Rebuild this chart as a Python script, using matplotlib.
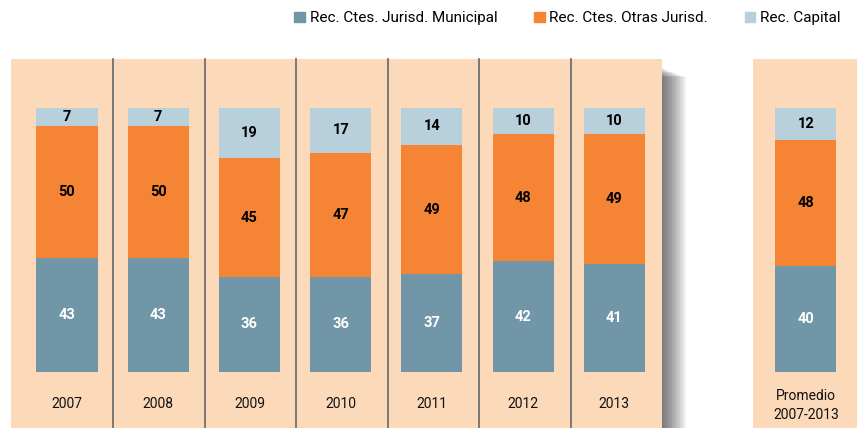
import matplotlib.pyplot as plt
from matplotlib.patches import Rectangle, Patch

# data
years = ['2007', '2008', '2009', '2010', '2011', '2012', '2013']
avg_label = 'Promedio\n2007-2013'
municipal = [43, 43, 36, 36, 37, 42, 41]
otras = [50, 50, 45, 47, 49, 48, 49]
capital = [7, 7, 19, 17, 14, 10, 10]
avg_values = [40, 48, 12]
series_names = ['Rec. Ctes. Jurisd. Municipal', 'Rec. Ctes. Otras Jurisd.', 'Rec. Capital']

c_mun = '#7096a8'
c_otr = '#f58434'
c_cap = '#b8d0dc'
c_panel = '#fcd9b9'
c_sep = '#707070'

plt.rcParams['font.family'] = ['Roboto', 'DejaVu Sans']

fig = plt.figure(figsize=(8.57, 4.28), dpi=100)
ax = fig.add_axes([0, 0, 1, 1])
ax.set_xlim(-0.735, 8.66)
ax.set_ylim(-21.2, 140.9)
ax.axis('off')

x = list(range(len(years)))
avg_x = 8.1
panel_top = 118.6
panel_bot = -21.2
w = 0.67

# shadow to the right of the year block
for k in range(12):
    ax.add_patch(Rectangle((6.52, panel_bot), 0.022 * (k + 1), 114 - panel_bot + 1 - k * 0.3,
                           color='black', alpha=0.055, lw=0, zorder=0))

# panels
ax.add_patch(Rectangle((-0.614, panel_bot), 6.52 + 0.614, panel_top - panel_bot,
                       color=c_panel, lw=0, zorder=1))
ax.add_patch(Rectangle((7.52, panel_bot), 1.2, panel_top - panel_bot,
                       color=c_panel, lw=0, zorder=1))
for xs in [0.504, 1.51, 2.51, 3.52, 4.52, 5.53]:
    ax.plot([xs, xs], [panel_bot, panel_top], color=c_sep, lw=1.3, zorder=2)

# bars
all_x = x + [avg_x]
mun = municipal + [avg_values[0]]
otr = otras + [avg_values[1]]
cap = capital + [avg_values[2]]
bot2 = [a + b for a, b in zip(mun, otr)]
ax.bar(all_x, mun, width=w, color=c_mun, zorder=3)
ax.bar(all_x, otr, width=w, bottom=mun, color=c_otr, zorder=3)
ax.bar(all_x, cap, width=w, bottom=bot2, color=c_cap, zorder=3)

for xi, m, o, c in zip(all_x, mun, otr, cap):
    ax.text(xi, m / 2, str(m), ha='center', va='center', color='white',
            fontsize=10.5, fontweight='bold', zorder=4)
    ax.text(xi, m + o / 2, str(o), ha='center', va='center', color='black',
            fontsize=10.5, fontweight='bold', zorder=4)
    ax.text(xi, m + o + c / 2, str(c), ha='center', va='center', color='black',
            fontsize=10.5, fontweight='bold', zorder=4)

for xi, lab in zip(x, years):
    ax.text(xi, -12.1, lab, ha='center', va='center', fontsize=10, color='#111111', zorder=4)
ax.text(avg_x, -12.8, avg_label, ha='center', va='center', fontsize=10,
        color='#111111', linespacing=1.45, zorder=4)

handles = [Patch(color=c) for c in [c_mun, c_otr, c_cap]]
fig.legend(handles, series_names, loc='center', bbox_to_anchor=(0.662, 0.957), ncol=3,
           frameon=False, fontsize=11, handlelength=0.7, handleheight=0.7,
           handletextpad=0.3, columnspacing=2.4, borderpad=0.2)

fig.savefig('out.png', dpi=100)
